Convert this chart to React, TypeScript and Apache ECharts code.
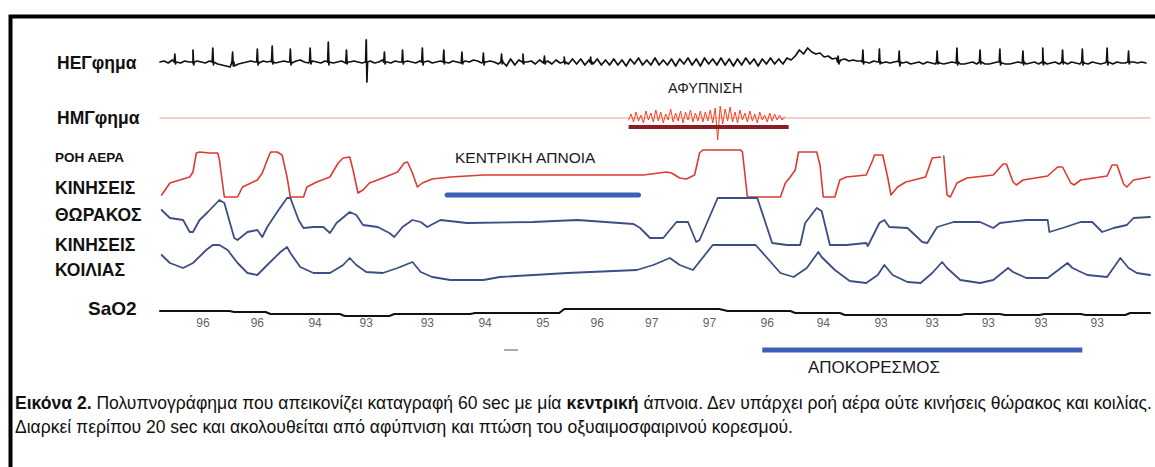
import React, { useEffect, useRef } from "react";
import * as echarts from "echarts";

// ---- DATA (time in seconds, 0..60; amplitudes in arbitrary trace units) ----
// EEG background activity, sampled every 0.25 s
const eegStep = 0.25;
const eegNoise = [
  0, 1, -1, 2, 0, -1, 1, 0, -1, 1,
  0, -1, 1, 0, -2, -3, -4, -5, -4, -2,
  -1, 0, 1, 0, -1, 1, 0, 1, -1, 0,
  1, 0, -1, 1, 2, 0, -1, 1, 0, -1,
  1, 0, -1, 0, 1, -1, 0, 1, 0, -1,
  0, 1, -1, 0, 2, 0, -1, 1, 0, -1,
  1, 0, -1, 1, 0, 1, -1, 0, 1, 0,
  -1, 1, 0, -1, 1, 0, 2, 1, -1, 0,
  1, 0, -2, 2, -4, 3, -3, 2, -1, 0,
  1, -2, 2, -1, 1, -2, 2, -1, 2, -2,
  3, -2, 3, -3, 2, -2, 3, -3, 2, -3,
  3, -3, 2, -4, 3, -2, 4, -3, 2, -3,
  4, -3, 2, -3, 3, -4, 3, -2, 4, -3,
  3, -4, 4, -2, 3, -3, 4, -3, 3, -4,
  3, -3, 4, -2, 3, -4, 3, -2, 4, -2,
  3, -2, 4, 2, 6, 12, 8, 14, 10, 8,
  9, 5, 6, 3, 4, 2, 3, 1, 2, 1,
  1, 0, -1, 1, 0, -1, 0, -1, 0, 1,
  -1, 0, -2, -1, 0, -2, 0, -1, -2, -1,
  -2, -1, 0, -1, -2, -2, -1, 0, -2, -1,
  -2, -2, -1, 0, -1, -2, -2, -1, 0, -1,
  -2, -1, 0, -2, -1, -2, -1, 0, -2, -1,
  -2, 0, -1, -2, -1, -2, 0, -1, -2, -1,
  0, -2, 0, -1, -1, -2, 0, -1, 0, -1,
];
// ECG-like spikes on the EEG trace: [time, height up, depth down]
const eegSpikes = [
  [0.9, 8, 2], [2.0, 12, 3], [3.2, 14, 3], [4.4, 10, 4], [5.9, 13, 3], [6.8, 16, 2], [7.9, 13, 3], [9.1, 14, 2],
  [10.2, 20, 3], [11.3, 12, 2], [12.5, 24, 20], [13.6, 10, 2], [14.7, 12, 2], [15.9, 14, 3], [17.2, 12, 2],
  [18.3, 10, 2], [19.6, 9, 3], [20.7, 8, 2], [22.0, 8, 2], [23.3, 6, 2], [24.5, 5, 2], [26.1, 5, 2],
  [41.1, 6, 2], [42.6, 12, 2], [43.6, 13, 2], [44.8, 11, 4], [47.1, 11, 2], [48.3, 14, 3], [49.7, 12, 2],
  [50.9, 13, 3], [52.3, 11, 3], [53.5, 14, 3], [54.7, 12, 2], [55.9, 13, 3], [57.4, 14, 3], [58.7, 11, 2],
];

const emgBaseline = [[0, 0], [60, 0]];
const emgBurstStart = 28.4;
const emgBurstStep = 0.15;
const emgBurst = [
  -2, 4, -4, 6, -3, 3, -5, 7, -2, 5,
  -4, 8, -3, 6, -5, 4, -2, 9, -4, 5,
  -3, 7, -5, 6, -2, 8, -4, 5, -3, 7,
  -4, 6, -3, 8, -5, 10, -22, 12, -6, 9,
  -3, 11, -4, 6, -5, 8, -2, 5, -4, 7,
  -3, 4, -5, 6, -2, 3, -4, 5, -3, 4,
  -2, 3, -2, 1,
];

const airflow = [
  [0.1, 2], [0.6, 14], [1.4, 18], [1.8, 20], [2.0, 25], [2.2, 44], [2.4, 45], [3.0, 44], [3.5, 44], [3.6, 37],
  [3.9, 0], [4.7, 0], [5.0, 10], [5.9, 17], [6.2, 24], [6.5, 37], [6.7, 45], [7.1, 45], [7.4, 42], [7.7, 20],
  [7.9, 0], [8.7, 0], [8.9, 10], [9.5, 15], [10.3, 20], [10.8, 34], [11.1, 39], [11.5, 40], [11.7, 27], [12.0, 4],
  [12.3, 7], [12.7, 14], [13.5, 19], [14.4, 25], [14.8, 34], [15.0, 35], [15.3, 24], [15.6, 10], [15.9, 14], [16.5, 18],
  [17.6, 20], [19.6, 22], [23.0, 22], [26.7, 22], [28.7, 22], [29.3, 22], [30.7, 25], [31.0, 24], [31.5, 19], [31.9, 18],
  [32.4, 22], [32.7, 44], [32.9, 47], [35.2, 47], [35.3, 45], [35.6, 0], [37.6, 0], [37.9, 14], [38.2, 20], [38.5, 27],
  [38.7, 45], [39.8, 45], [40.0, 32], [40.2, 0], [40.9, 0], [41.2, 17], [41.6, 20], [42.8, 22], [43.2, 37], [43.3, 42],
  [43.8, 42], [44.1, 20], [44.3, 2], [44.7, 10], [45.2, 15], [46.4, 20], [46.8, 39], [47.3, 40], [47.4, null], [47.5, 41],
  [47.7, 2], [47.9, 0], [48.3, 14], [48.9, 19], [50.5, 22], [51.1, 33], [51.3, 33], [51.7, 15], [51.9, 12], [52.3, 17],
  [53.8, 21], [54.4, 30], [54.7, 30], [55.2, 14], [55.4, 12], [55.8, 17], [57.4, 21], [57.7, 32], [58.0, 32], [58.4, 13],
  [58.6, 10], [59.0, 17], [60.0, 20],
];

const thorax = [
  [0.1, 40], [0.6, 32], [1.4, 30], [1.8, 18], [2.0, 18], [2.4, 30], [2.9, 38], [3.6, 50], [3.9, 47], [4.5, 12],
  [4.7, 10], [5.3, 18], [5.9, 20], [6.2, 13], [6.5, 23], [7.1, 38], [7.7, 52], [7.9, 52], [8.4, 30], [8.7, 22],
  [9.3, 23], [9.9, 23], [10.3, 17], [10.7, 27], [11.5, 38], [11.9, 35], [12.3, 25], [13.2, 23], [13.9, 17], [14.2, 13],
  [14.7, 23], [15.3, 30], [15.8, 28], [16.2, 23], [17.0, 30], [18.6, 27], [22.6, 28], [25.3, 30], [28.7, 26], [29.1, 22],
  [29.7, 12], [30.5, 12], [31.3, 28], [32.0, 28], [32.5, 8], [32.7, 10], [33.8, 52], [36.2, 52], [37.1, 7], [38.0, 5],
  [38.8, 5], [39.1, 27], [39.8, 42], [40.1, 39], [40.6, 5], [41.6, 5], [42.8, 7], [42.9, 4], [43.6, 27], [43.9, 30],
  [44.2, 23], [45.3, 22], [46.2, 8], [46.5, 7], [47.1, 23], [48.1, 28], [49.7, 28], [50.5, 22], [50.9, 27], [52.5, 30],
  [53.8, 30], [53.9, 18], [54.7, 22], [55.8, 28], [56.5, 28], [57.1, 18], [57.8, 22], [58.6, 25], [59.0, 32], [60.0, 33],
];

const abdomen = [
  [0.1, 30], [0.6, 22], [1.4, 17], [2.0, 22], [2.8, 35], [3.2, 40], [3.6, 40], [4.1, 35], [4.7, 22], [5.3, 12],
  [5.9, 10], [6.5, 20], [7.3, 33], [7.7, 38], [7.9, 32], [8.5, 18], [9.3, 12], [10.3, 12], [11.1, 20], [11.5, 27],
  [11.9, 20], [12.5, 13], [13.5, 12], [14.4, 17], [15.3, 23], [15.8, 13], [16.5, 8], [17.6, 5], [19.6, 5], [20.6, 8],
  [24.7, 12], [28.9, 15], [29.9, 20], [30.9, 27], [31.5, 20], [32.3, 15], [33.5, 40], [36.1, 40], [36.8, 27], [37.6, 12],
  [38.4, 8], [39.2, 17], [39.9, 33], [40.1, 28], [40.9, 15], [41.8, 4], [42.8, 2], [43.5, 10], [43.9, 20], [44.4, 10],
  [45.3, 3], [46.1, 2], [46.8, 12], [47.4, 23], [47.7, 17], [48.5, 5], [49.7, 2], [50.5, 5], [51.4, 17], [51.7, 13],
  [52.5, 7], [53.8, 7], [55.0, 22], [55.3, 17], [56.2, 10], [57.4, 8], [58.2, 27], [58.7, 17], [59.2, 12], [60.0, 10],
];

const sao2Line = [
  [0, 9], [4.2, 9], [4.5, 8], [6.4, 8], [6.7, 6], [10.9, 6], [11.2, 4], [13.9, 4], [14.2, 6], [18.8, 6],
  [19.1, 7], [24.2, 7], [24.5, 11], [33.9, 11], [34.4, 9], [38.2, 9], [38.5, 7], [41.2, 7], [41.5, 5], [48.5, 5],
  [48.8, 6], [50.9, 6], [51.2, 5], [53.3, 5], [53.6, 6], [55.8, 6], [56.1, 5], [58.5, 5], [58.8, 7], [60, 7],
];
const sao2Times = [2.6, 5.9, 9.4, 12.5, 16.2, 19.7, 23.2, 26.5, 29.8, 33.3, 36.8, 40.2, 43.7, 46.8, 50.2, 53.4, 56.8];
const sao2Labels = ["96", "96", "94", "93", "93", "94", "95", "96", "97", "97", "96", "94", "93", "93", "93", "93", "93"];

const apneaEvent = [17.4, 29.0];
const arousalEvent = [28.4, 38.1];
const desatEvent = [36.5, 55.9];

const channelNames = ["ΗΕΓφημα", "ΗΜΓφημα", "ΡΟΗ ΑΕΡΑ", "ΚΙΝΗΣΕΙΣ", "ΘΩΡΑΚΟΣ", "ΚΙΝΗΣΕΙΣ", "ΚΟΙΛΙΑΣ", "SaO2"];
const eventNames = ["ΚΕΝΤΡΙΚΗ ΑΠΝΟΙΑ", "ΑΦΥΠΝΙΣΗ", "ΑΠΟΚΟΡΕΣΜΟΣ"];
const captionBold = "Εικόνα 2.";
const captionLine1a = " Πολυπνογράφημα που απεικονίζει καταγραφή 60 sec με μία ";
const captionBold2 = "κεντρική";
const captionLine1b = " άπνοια. Δεν υπάρχει ροή αέρα ούτε κινήσεις θώρακος και κοιλίας.";
const captionLine2 = "Διαρκεί περίπου 20 sec και ακολουθείται από αφύπνιση και πτώση του οξυαιμοσφαιρινού κορεσμού.";

// ---- LAYOUT ----
const SANS = '"Liberation Sans", Arial, sans-serif';

const gridDefs = [
  { top: 40, height: 44, min: -22, max: 22 },   // EEG
  { top: 100, height: 42, min: -24, max: 18 },  // EMG
  { top: 145, height: 57, min: -5, max: 52 },   // airflow
  { top: 193, height: 57, min: 0, max: 57 },    // thorax
  { top: 240, height: 45, min: 0, max: 45 },    // abdomen
  { top: 295, height: 80, min: -55, max: 25 },  // SaO2
];

function buildEeg() {
  const pts: number[][] = eegNoise.map((v, i) => [i * eegStep, v]);
  eegSpikes.forEach(([t, up, down]) => {
    pts.push([t - 0.04, 0], [t, up], [t + 0.04, -down], [t + 0.08, 0]);
  });
  pts.sort((a, b) => a[0] - b[0]);
  return pts;
}

export default function App() {
  const ref = useRef<HTMLDivElement>(null);

  useEffect(() => {
    if (!ref.current) return;
    const chart = echarts.init(ref.current, null, { renderer: "svg" });

    const line = (gi: number, data: any[], color: string, width: number, cap: string = "round") => ({
      type: "line",
      xAxisIndex: gi,
      yAxisIndex: gi,
      data,
      showSymbol: false,
      symbol: "none",
      silent: true,
      connectNulls: false,
      lineStyle: { color, width, join: "round", cap },
      z: 3,
    });

    const labelPos = [
      { x: 57, y: 63, size: 17.5 },
      { x: 57, y: 118, size: 17.5 },
      { x: 55, y: 157, size: 13.5 },
      { x: 55, y: 188, size: 17.5 },
      { x: 55, y: 215, size: 17.5 },
      { x: 55, y: 245, size: 17.5 },
      { x: 55, y: 270, size: 17.5 },
      { x: 88, y: 308, size: 19 },
    ];

    const option: any = {
      animation: false,
      backgroundColor: "#ffffff",
      grid: gridDefs.map((g) => ({ left: 160, right: 5, top: g.top, height: g.height })),
      xAxis: gridDefs.map((_, i) => ({ type: "value", gridIndex: i, min: 0, max: 60, show: false })),
      yAxis: gridDefs.map((g, i) => ({ type: "value", gridIndex: i, min: g.min, max: g.max, show: false })),
      series: [
        line(0, buildEeg(), "#111111", 1.7),
        line(1, emgBaseline, "#d9a392", 1.2),
        line(1, emgBurst.map((v, i) => [emgBurstStart + i * emgBurstStep, v]), "#ff3c1e", 1),
        line(1, [[arousalEvent[0], -9], [arousalEvent[1], -9]], "#8a1d25", 4, "butt"),
        line(2, airflow, "#dc3a32", 1.6),
        line(2, [[apneaEvent[0], 2], [apneaEvent[1], 2]], "#3e5fb6", 5),
        line(3, thorax, "#3c4e82", 1.8),
        line(4, abdomen, "#3c4e82", 1.8),
        line(5, sao2Line, "#111111", 2),
        line(5, [[desatEvent[0], -30], [desatEvent[1], -30]], "#3e5fb6", 5, "butt"),
        {
          type: "scatter",
          xAxisIndex: 5,
          yAxisIndex: 5,
          symbolSize: 0,
          silent: true,
          data: sao2Times.map((t, i) => [t, -3, sao2Labels[i]]),
          label: {
            show: true,
            position: "inside",
            formatter: (p: any) => p.value[2],
            fontFamily: SANS,
            fontSize: 12,
            color: "#333333",
          },
        },
      ],
      graphic: [
        { type: "rect", shape: { x: 10.5, y: 16.5, width: 1300, height: 600 }, style: { fill: "none", stroke: "#000", lineWidth: 4 }, silent: true },
        ...channelNames.map((name, i) => ({
          type: "text",
          x: labelPos[i].x,
          y: labelPos[i].y,
          style: {
            text: name,
            fontFamily: SANS,
            fontWeight: "bold",
            fontSize: labelPos[i].size,
            fill: "#111",
            textVerticalAlign: "middle",
          },
        })),
        { type: "text", x: 455, y: 157, style: { text: eventNames[0], fontFamily: SANS, fontSize: 15.5, fill: "#1a1a1a", textVerticalAlign: "middle" } },
        { type: "text", x: 668, y: 88, style: { text: eventNames[1], fontFamily: SANS, fontSize: 14.5, fill: "#1a1a1a", textVerticalAlign: "middle" } },
        { type: "text", x: 808, y: 367, style: { text: eventNames[2], fontFamily: SANS, fontSize: 17, fill: "#1a1a1a", textVerticalAlign: "middle" } },
        { type: "line", shape: { x1: 504, y1: 350, x2: 518, y2: 350 }, style: { stroke: "#aaaaaa", lineWidth: 2 } },
        {
          type: "text",
          x: 15,
          y: 403,
          scaleX: 0.975,
          style: {
            text: `{b|${captionBold}}{r|${captionLine1a}}{b|${captionBold2}}{r|${captionLine1b}}`,
            textVerticalAlign: "middle",
            rich: {
              b: { fontFamily: SANS, fontWeight: "bold", fontSize: 18, fill: "#111" },
              r: { fontFamily: SANS, fontSize: 18, fill: "#111" },
            },
          },
        },
        {
          type: "text",
          x: 15,
          y: 427,
          scaleX: 0.975,
          style: { text: captionLine2, fontFamily: SANS, fontSize: 18, fill: "#111", textVerticalAlign: "middle" },
        },
      ],
    };

    chart.setOption(option);
    return () => chart.dispose();
  }, []);

  return (
    <div
      ref={ref}
      style={{ position: "fixed", left: 0, top: 0, width: 1155, height: 467, background: "#fff" }}
    />
  );
}
